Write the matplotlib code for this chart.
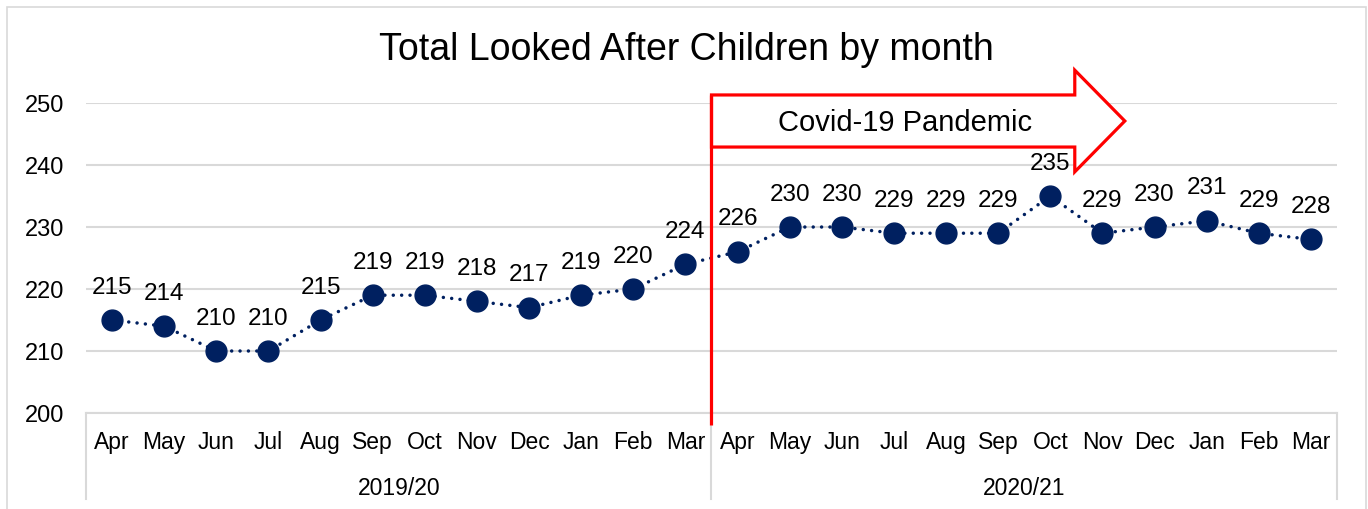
import matplotlib.pyplot as plt
from matplotlib.patches import Polygon, Rectangle
from matplotlib.transforms import blended_transform_factory

plt.rcParams['font.family'] = ['Liberation Sans', 'DejaVu Sans']

# data
months = ['Apr', 'May', 'Jun', 'Jul', 'Aug', 'Sep', 'Oct', 'Nov', 'Dec', 'Jan', 'Feb', 'Mar']
years = ['2019/20', '2020/21']
lac_2019 = [215, 214, 210, 210, 215, 219, 219, 218, 217, 219, 220, 224]
lac_2020 = [226, 230, 230, 229, 229, 229, 235, 229, 230, 231, 229, 228]

values = lac_2019 + lac_2020
labels = months * len(years)
x = list(range(len(values)))

navy = '#002060'
grid_grey = '#D9D9D9'

fig = plt.figure(figsize=(13.68, 5.09), dpi=100)
ax = fig.add_axes([0.0629, 0.1886, 0.9144, 0.6090])

# chart border
fig.patches.append(Rectangle((0.005, -0.05), 0.9935, 1.036, transform=fig.transFigure,
                             fill=False, edgecolor=grid_grey, linewidth=1.2))

ax.plot(x, values, color=navy, linewidth=2.5, linestyle=(0, (0.01, 2.4)),
        dash_capstyle='round', marker='o', markersize=15, zorder=3)

for xi, v in zip(x, values):
    ax.annotate(str(v), (xi, v), xytext=(0, 19), textcoords='offset points',
                ha='center', va='baseline', fontsize=17.5, zorder=5)

ax.set_xlim(-0.5, len(values) - 0.5)
ax.set_ylim(200, 250)
ax.set_yticks(range(200, 251, 10))
ax.yaxis.grid(True, color=grid_grey, linewidth=1.5)
ax.set_axisbelow(True)
for s in ['top', 'right', 'left']:
    ax.spines[s].set_visible(False)
ax.spines['bottom'].set_color(grid_grey)
ax.spines['bottom'].set_linewidth(1.5)

ax.set_xticks(x)
ax.set_xticklabels(labels)
ax.tick_params(axis='x', length=0, pad=13, labelsize=16.5)
ax.tick_params(axis='y', length=0, pad=16, labelsize=17)

# group axis
trans = blended_transform_factory(ax.transData, ax.transAxes)
for b in [-0.5, 11.5, 23.5]:
    ax.plot([b, b], [0, -0.277], transform=trans, color=grid_grey, linewidth=1.5,
            clip_on=False)
for i, yr in enumerate(years):
    ax.text(i * 12 + 5.5, -0.243, yr, transform=trans, ha='center', va='center',
            fontsize=16.5)

# pandemic arrow
arrow_pts = [(11.5, 251.3), (18.47, 251.3), (18.47, 255.3), (19.43, 247.1),
             (18.47, 238.9), (18.47, 242.9), (11.5, 242.9)]
ax.add_patch(Polygon(arrow_pts, closed=True, facecolor='white', edgecolor='#FF0000',
                     linewidth=2.3, joinstyle='miter', clip_on=False, zorder=4))
ax.plot([11.5, 11.5], [251.3, 198.1], color='#FF0000', linewidth=2.3, clip_on=False,
        zorder=4, solid_capstyle='butt')
ax.text(15.21, 246.8, 'Covid-19 Pandemic', ha='center', va='center', fontsize=21,
        zorder=6)

fig.text(0.502, 0.902, 'Total Looked After Children by month', ha='center',
         va='center', fontsize=27)

fig.savefig('out.png', dpi=100)
